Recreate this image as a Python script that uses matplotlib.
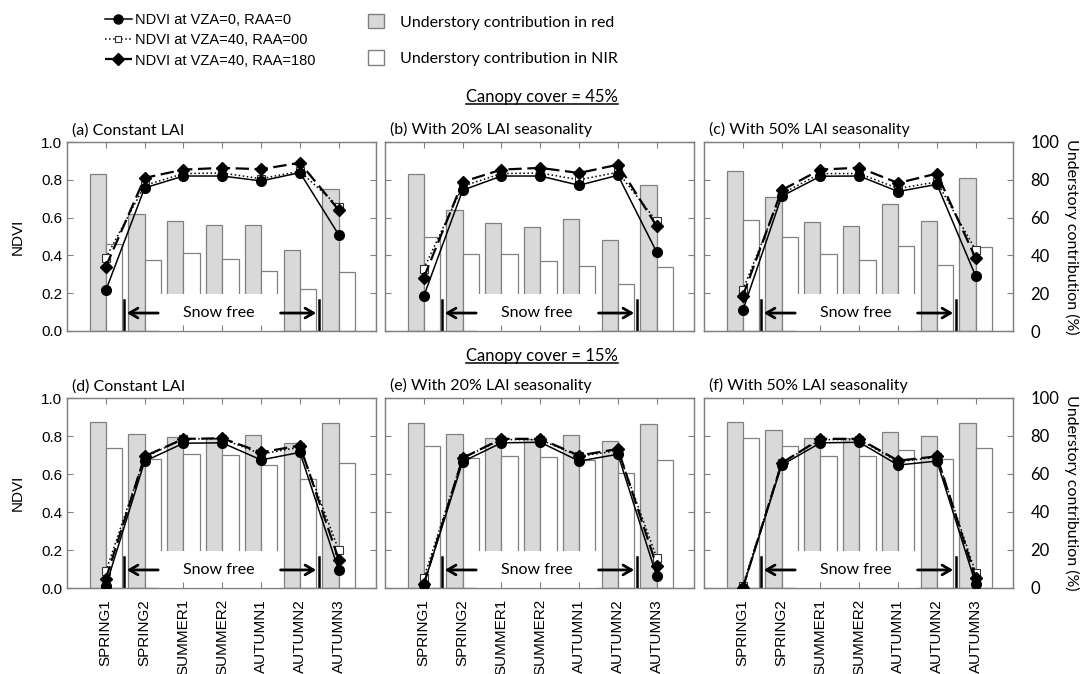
import matplotlib
matplotlib.use("Agg")
import matplotlib.pyplot as plt
import numpy as np
from matplotlib.lines import Line2D
from matplotlib.patches import Patch, Rectangle

seasons = ["SPRING1", "SPRING2", "SUMMER1", "SUMMER2", "AUTUMN1", "AUTUMN2", "AUTUMN3"]

titles = ["(a) Constant LAI", "(b) With 20% LAI seasonality", "(c) With 50% LAI seasonality",
          "(d) Constant LAI", "(e) With 20% LAI seasonality", "(f) With 50% LAI seasonality"]

# understory contribution (%) in red / NIR, per panel
red_a = [83, 62, 58, 56, 56, 43, 75]
nir_a = [46, 37.5, 41.5, 38, 31.5, 22, 31]
red_b = [83, 64, 57, 55, 59, 48, 77]
nir_b = [50, 40.5, 40.5, 37, 34.5, 25, 34]
red_c = [84.5, 71, 57.5, 55.5, 67, 58, 81]
nir_c = [58.5, 50, 41, 37.5, 45, 35, 44.5]
red_d = [87.5, 81, 79.5, 79, 80.5, 76.5, 87]
nir_d = [73.5, 68, 70.5, 70, 65, 57.5, 66]
red_e = [87, 81, 79, 78.5, 80.5, 77.5, 86.5]
nir_e = [75, 68.5, 69.5, 69, 67.5, 60.5, 67.5]
red_f = [87.5, 83, 79, 79, 82, 80, 87]
nir_f = [79, 75, 69.5, 69.5, 72.5, 68, 73.5]

# NDVI: VZA=0/RAA=0, VZA=40/RAA=00, VZA=40/RAA=180
ndvi0_a = [0.215, 0.757, 0.82, 0.82, 0.794, 0.838, 0.509]
ndvi40f_a = [0.387, 0.77, 0.833, 0.836, 0.806, 0.845, 0.657]
ndvi40b_a = [0.34, 0.81, 0.854, 0.863, 0.856, 0.89, 0.64]
ndvi0_b = [0.185, 0.745, 0.82, 0.82, 0.771, 0.824, 0.417]
ndvi40f_b = [0.33, 0.766, 0.833, 0.836, 0.80, 0.84, 0.58]
ndvi40b_b = [0.282, 0.789, 0.854, 0.863, 0.836, 0.88, 0.555]
ndvi0_c = [0.109, 0.713, 0.819, 0.82, 0.738, 0.776, 0.29]
ndvi40f_c = [0.217, 0.727, 0.833, 0.833, 0.754, 0.789, 0.428]
ndvi40b_c = [0.185, 0.745, 0.854, 0.864, 0.783, 0.833, 0.384]
ndvi0_d = [0.01, 0.667, 0.762, 0.764, 0.674, 0.714, 0.093]
ndvi40f_d = [0.088, 0.688, 0.785, 0.785, 0.705, 0.741, 0.20]
ndvi40b_d = [0.048, 0.693, 0.785, 0.788, 0.714, 0.75, 0.15]
ndvi0_e = [0.018, 0.665, 0.764, 0.767, 0.668, 0.704, 0.062]
ndvi40f_e = [0.053, 0.684, 0.781, 0.781, 0.693, 0.723, 0.159]
ndvi40b_e = [0.021, 0.684, 0.785, 0.785, 0.697, 0.732, 0.115]
ndvi0_f = [0.0, 0.647, 0.764, 0.767, 0.647, 0.668, 0.021]
ndvi40f_f = [0.012, 0.658, 0.781, 0.781, 0.665, 0.688, 0.079]
ndvi40b_f = [0.0, 0.658, 0.785, 0.785, 0.67, 0.693, 0.053]

red_all = [red_a, red_b, red_c, red_d, red_e, red_f]
nir_all = [nir_a, nir_b, nir_c, nir_d, nir_e, nir_f]
ndvi0_all = [ndvi0_a, ndvi0_b, ndvi0_c, ndvi0_d, ndvi0_e, ndvi0_f]
ndvi40f_all = [ndvi40f_a, ndvi40f_b, ndvi40f_c, ndvi40f_d, ndvi40f_e, ndvi40f_f]
ndvi40b_all = [ndvi40b_a, ndvi40b_b, ndvi40b_c, ndvi40b_d, ndvi40b_e, ndvi40b_f]

ARIAL = "Liberation Sans"
CALIBRI = "Lato"
GRAY = "#808080"

W, H = 1085, 674
fig = plt.figure(figsize=(W / 100, H / 100), dpi=100)

lefts = [67, 385, 704]
row_px = [(142, 331), (398, 588)]
x = np.arange(len(seasons))
bw = 0.42

for i in range(6):
    r, c = divmod(i, 3)
    top, bot = row_px[r]
    ax = fig.add_axes([lefts[c] / W, 1 - bot / H, 309 / W, (bot - top) / H])
    ax2 = ax.twinx()

    ax2.bar(x - bw / 2, red_all[i], bw, color="#d9d9d9", edgecolor=GRAY, linewidth=0.9)
    ax2.bar(x + bw / 2, nir_all[i], bw, color="white", edgecolor=GRAY, linewidth=0.9)
    ax2.set_ylim(0, 100)
    ax2.set_yticks([0, 20, 40, 60, 80, 100])
    ax2.tick_params(axis="y", right=False, labelright=(c == 2), labelsize=12, pad=9)
    for lab in ax2.get_yticklabels():
        lab.set_fontfamily(CALIBRI)
    if c == 2:
        ax2.set_ylabel("Understory contribution (%)", rotation=270, family=CALIBRI,
                       fontsize=11.5, labelpad=14)

    ax.set_zorder(ax2.get_zorder() + 1)
    ax.patch.set_visible(False)

    # snow-free annotation
    ax.add_patch(Rectangle((1.38, 0), 3.07, 0.195, facecolor="white", edgecolor="none", zorder=1))
    ax.text(2.915, 0.095, "Snow free", ha="center", va="center", family=CALIBRI, fontsize=11.5, zorder=2)
    ax.plot([0.46, 0.46], [0, 0.165], color="black", lw=1.8, zorder=2)
    ax.plot([5.5, 5.5], [0, 0.165], color="black", lw=1.8, zorder=2)
    ax.annotate("", xy=(0.47, 0.095), xytext=(1.42, 0.095),
                arrowprops=dict(arrowstyle="->,head_length=0.6,head_width=0.35", lw=2, color="black"), zorder=2)
    ax.annotate("", xy=(5.49, 0.095), xytext=(4.43, 0.095),
                arrowprops=dict(arrowstyle="->,head_length=0.6,head_width=0.35", lw=2, color="black"), zorder=2)

    ax.plot(x, ndvi0_all[i], "-", color="black", lw=1.1, marker="o", ms=7, zorder=5)
    ax.plot(x, ndvi40f_all[i], ":", color="black", lw=1.1, marker="s", ms=5.5,
            mfc="white", mec="#333333", mew=0.8, zorder=4)
    ax.plot(x, ndvi40b_all[i], color="black", lw=1.6, dashes=(6, 2.5), marker="D", ms=6.5, zorder=6)

    ax.set_xlim(-1.0, 6.96)
    ax.set_ylim(0, 1.0)
    ax.set_yticks([0, 0.2, 0.4, 0.6, 0.8, 1.0])
    ax.set_yticklabels(["%.1f" % v for v in ax.get_yticks()], family=ARIAL)
    ax.set_xticks(x)
    if r == 1:
        ax.set_xticklabels(seasons, rotation=90, family=ARIAL, fontsize=11)
    else:
        ax.set_xticklabels([])
    ax.tick_params(axis="both", direction="in", top=True, right=True, length=4, color=GRAY,
                   labelsize=11, labelleft=(c == 0))
    ax.tick_params(axis="x", pad=8)
    if c == 0:
        ax.set_ylabel("NDVI", family=ARIAL, fontsize=11, labelpad=12)
    for ax_ in (ax, ax2):
        for s in ax_.spines.values():
            s.set_color(GRAY)
            s.set_linewidth(0.9)

    ax.text(0.016, 1.025, titles[i], transform=ax.transAxes, ha="left", va="bottom",
            family=CALIBRI, fontsize=11.5)

# legends
line_handles = [
    Line2D([], [], color="black", lw=1.1, marker="o", ms=6.5),
    Line2D([], [], color="black", lw=1.1, ls=":", marker="s", ms=5, mfc="white", mec="#333333", mew=0.8),
    Line2D([], [], color="black", lw=1.6, dashes=(6, 2.5), marker="D", ms=6.5),
]
fig.legend(line_handles, ["NDVI at VZA=0, RAA=0", "NDVI at VZA=40, RAA=00", "NDVI at VZA=40, RAA=180"],
           loc="upper left", bbox_to_anchor=(98 / W, 1 - 6 / H), frameon=False, handlelength=1.8,
           handletextpad=0.25, labelspacing=0.42, prop={"family": ARIAL, "size": 10.5}, borderpad=0)

box_handles = [Patch(facecolor="#d9d9d9", edgecolor=GRAY), Patch(facecolor="white", edgecolor=GRAY)]
fig.legend(box_handles, ["Understory contribution in red", "Understory contribution in NIR"],
           loc="upper left", bbox_to_anchor=(360 / W, 1 - 6 / H), frameon=False, handlelength=1.0,
           handleheight=1.0, handletextpad=1.0, labelspacing=1.3, prop={"family": CALIBRI, "size": 11.5},
           borderpad=0)

# underlined section headings
heads = []
for txt, ypx in [("Canopy cover = 45%", 97), ("Canopy cover = 15%", 356)]:
    heads.append(fig.text(542 / W, 1 - ypx / H, txt, ha="center", va="center", family=CALIBRI, fontsize=12))
fig.canvas.draw()
inv = fig.transFigure.inverted()
for t in heads:
    bb = t.get_window_extent()
    (x0, y0), (x1, _) = inv.transform([(bb.x0, bb.y0 + 1), (bb.x1, bb.y0)])
    fig.add_artist(Line2D([x0, x1], [y0, y0], transform=fig.transFigure, color="black", lw=1.1))

fig.savefig("out.png", dpi=100)
